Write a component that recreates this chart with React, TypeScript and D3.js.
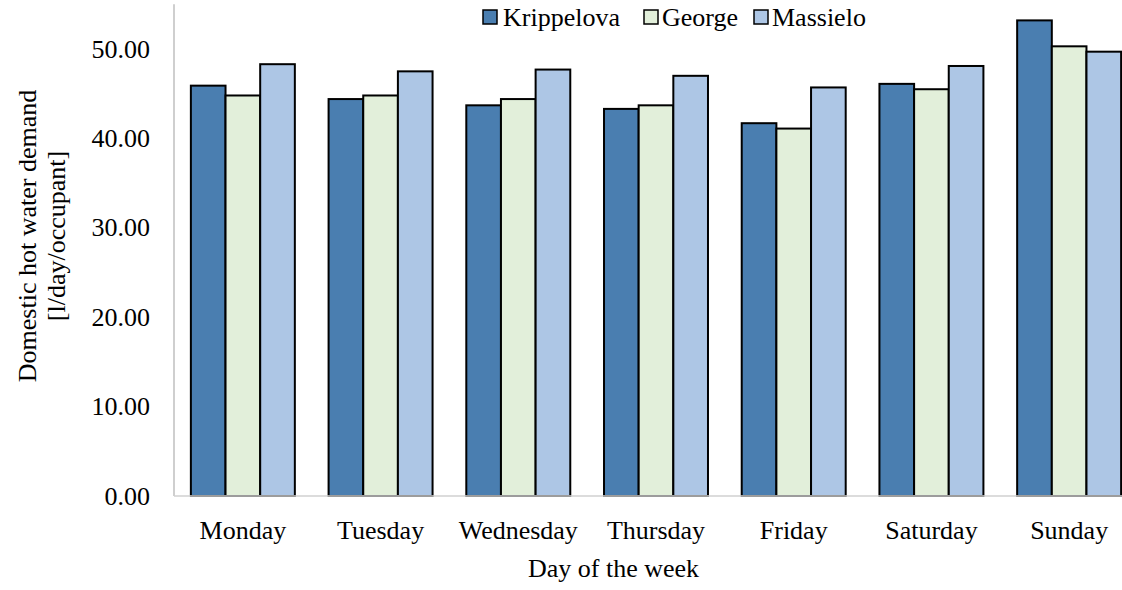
import React from "react";
import * as d3 from "d3";

const days = ["Monday", "Tuesday", "Wednesday", "Thursday", "Friday", "Saturday", "Sunday"];
const seriesNames = ["Krippelova", "George", "Massielo"];
const krippelova = [45.9, 44.4, 43.7, 43.3, 41.7, 46.1, 53.2];
const george = [44.8, 44.8, 44.4, 43.7, 41.1, 45.5, 50.3];
const massielo = [48.3, 47.5, 47.7, 47.0, 45.7, 48.1, 49.7];
const yTicks = [0, 10, 20, 30, 40, 50];
const colors = ["#4a7eb0", "#e2efda", "#adc6e5"];

const W = 1122;
const H = 590;
const FONT = "'Liberation Serif', 'Times New Roman', serif";
const FS = 26;

export default function App() {
  const left = 174;
  const right = 1138;
  const bottom = 496;
  const top = 4.3;
  const values = [krippelova, george, massielo];

  const x = d3.scaleBand<string>().domain(days).range([left, right]).paddingInner(0.245).paddingOuter(0.1225);
  const xs = d3.scaleBand<string>().domain(seriesNames).range([0, x.bandwidth()]).padding(0);
  const y = d3.scaleLinear().domain([0, 55]).range([bottom, top]);

  const legendX = [483, 644, 754];
  const legendTextX = [503, 662, 772];

  return (
    <div style={{ position: "fixed", left: 0, top: 0, width: W, height: H, background: "#fff" }}>
      <svg width={W} height={H} style={{ display: "block", fontFamily: FONT }}>
        {seriesNames.map((s, si) =>
          days.map((d, di) => {
            const v = values[si][di];
            const bx = (x(d) as number) + (xs(s) as number);
            return (
              <rect
                key={s + d}
                x={bx}
                y={y(v)}
                width={xs.bandwidth()}
                height={y(0) - y(v)}
                fill={colors[si]}
                stroke="#000"
                strokeWidth={2}
              />
            );
          })
        )}
        <line x1={left} x2={left} y1={y(55)} y2={y(0)} stroke="#bfbfbf" strokeWidth={1.5} />
        <line x1={left} x2={right} y1={y(0)} y2={y(0)} stroke="#d0d0d0" strokeWidth={1.5} />
        {yTicks.map((t) => (
          <text key={t} x={150} y={y(t)} textAnchor="end" dominantBaseline="central" fontSize={FS} fill="#000">
            {d3.format(".2f")(t)}
          </text>
        ))}
        {days.map((d) => (
          <text key={d} x={(x(d) as number) + x.bandwidth() / 2} y={539} textAnchor="middle" fontSize={FS} fill="#000">
            {d}
          </text>
        ))}
        <text x={613.5} y={577} textAnchor="middle" fontSize={FS} fill="#000">
          Day of the week
        </text>
        <g transform={`translate(0, 236) rotate(-90)`}>
          <text x={0} y={27} textAnchor="middle" dominantBaseline="central" fontSize={FS} fill="#000">
            Domestic hot water demand
          </text>
          <text x={0} y={56} textAnchor="middle" dominantBaseline="central" fontSize={FS} fill="#000">
            [l/day/occupant]
          </text>
        </g>
        {seriesNames.map((s, i) => (
          <g key={s}>
            <rect x={legendX[i]} y={10} width={14} height={14} fill={colors[i]} stroke="#000" strokeWidth={1.5} />
            <text x={legendTextX[i]} y={25.5} fontSize={FS} fill="#000">
              {s}
            </text>
          </g>
        ))}
      </svg>
    </div>
  );
}
